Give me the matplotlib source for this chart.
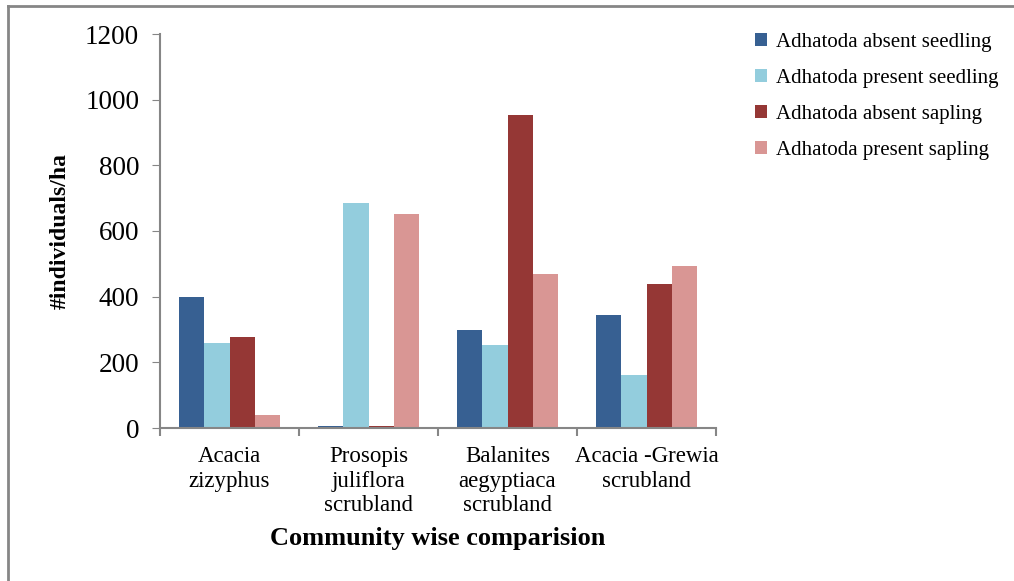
import matplotlib.pyplot as plt
import numpy as np

plt.rcParams['font.family'] = ['Liberation Serif', 'DejaVu Serif']

categories = ["Acacia\nzizyphus", "Prosopis\njuliflora\nscrubland",
              "Balanites\naegyptiaca\nscrubland", "Acacia -Grewia\nscrubland"]
series_names = ["Adhatoda absent seedling", "Adhatoda present seedling",
                "Adhatoda absent sapling", "Adhatoda present sapling"]
absent_seedling = [400, 6, 297, 343]
present_seedling = [259, 684, 254, 162]
absent_sapling = [277, 6, 953, 440]
present_sapling = [41, 653, 468, 494]
colors = ["#376092", "#93CDDD", "#953735", "#D99694"]

series = [absent_seedling, present_seedling, absent_sapling, present_sapling]

fig = plt.figure(figsize=(10.14, 5.81), dpi=100)
ax = fig.add_axes([160 / 1014, 1 - 428 / 581, 556 / 1014, 394 / 581])

x = np.arange(len(categories))
w = 0.182
for i, (vals, name, c) in enumerate(zip(series, series_names, colors)):
    ax.bar(x + (i - 1.5) * w, vals, w, color=c, label=name)

ax.set_xlim(-0.5, len(categories) - 0.5)
ax.set_ylim(0, 1200)
ax.set_yticks(range(0, 1201, 200))
ax.tick_params(axis='y', labelsize=19.5, length=6, color='#868686', pad=9)

# category labels centred, tick marks on group boundaries
ax.set_xticks(x)
ax.set_xticklabels(categories, fontsize=16.5, linespacing=1.22)
ax.tick_params(axis='x', length=0, pad=13)
ax.set_xticks(np.arange(-0.5, len(categories), 1), minor=True)
ax.tick_params(axis='x', which='minor', length=6, color='#868686', width=1.5)

for s in ['top', 'right']:
    ax.spines[s].set_visible(False)
for s in ['left', 'bottom']:
    ax.spines[s].set_color('#868686')
    ax.spines[s].set_linewidth(1.5)

ax.set_ylabel("#individuals/ha", fontsize=17, fontweight='bold', labelpad=10)
ax.set_xlabel("Community wise comparision", fontsize=19, fontweight='bold', labelpad=8)

fig.legend(loc='upper left', bbox_to_anchor=(736 / 1014, 1 - 14 / 581), frameon=False,
           fontsize=15, handlelength=0.6, handleheight=0.6, handletextpad=0.4,
           labelspacing=0.82)

# outer frame (only top and left visible in the crop)
fig.add_artist(plt.Line2D([8 / 1014, 1], [1 - 6 / 581] * 2, color='#868686', lw=2,
                          transform=fig.transFigure))
fig.add_artist(plt.Line2D([8 / 1014] * 2, [0, 1 - 6 / 581], color='#868686', lw=2,
                          transform=fig.transFigure))

fig.savefig("out.png", dpi=100)
